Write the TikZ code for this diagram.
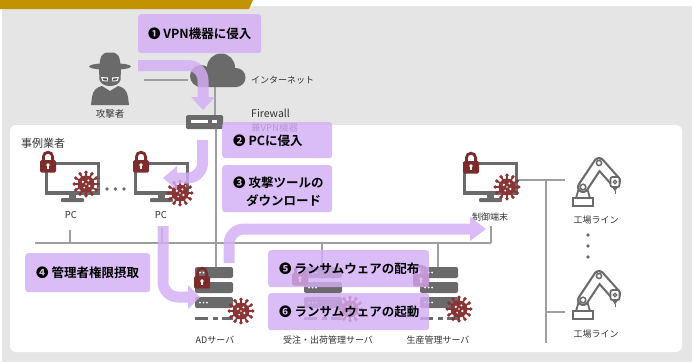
\documentclass[tikz,border=0pt]{standalone}
\usepackage{fontspec}
\setmainfont{Noto Sans CJK JP}[BoldFont={Noto Sans CJK JP Bold}]
\usetikzlibrary{calc}

\definecolor{bggrey}{HTML}{E5E5E5}
\definecolor{gold}{HTML}{C39200}
\definecolor{lav}{HTML}{D3AEF5}
\definecolor{icon}{HTML}{6A6A6A}
\definecolor{wirecol}{HTML}{9E9E9E}
\definecolor{lockred}{HTML}{7C2C2C}
\definecolor{germ}{HTML}{8A3535}
\definecolor{txtcol}{HTML}{333333}

\tikzset{
  wire/.style={draw=wirecol, line width=2.6},
  lbl/.style={text=txtcol, font=\fontsize{9}{11}\selectfont, inner sep=0},
  pbox/.style={fill=lav, fill opacity=0.82, rounded corners=3,
    anchor=north west, inner sep=0},
  ptext/.style={anchor=west, inner sep=0, align=left, text=black,
    font=\bfseries\fontsize{12.5}{18}\selectfont},
  parrow/.style={draw=lav, draw opacity=0.82, line width=11, rounded corners=15},
  phead/.style={fill=lav, fill opacity=0.82},
  % desktop monitor, origin at the top-left of the frame
  monitor/.pic={
    \draw[icon, line width=3.2] (1.6,1.6) rectangle (53.4,31);
    \fill[icon] (24,31) rectangle (31,37);
    \fill[icon, rounded corners=1] (16,36) rectangle (39,40);
  },
  % padlock, origin at the top-left of the body
  padlock/.pic={
    \draw[lockred, line width=2.8] (3.4,0.5) -- (3.4,-3.2)
      arc[start angle=180, end angle=360, radius=4.6] -- (12.6,0.5);
    \fill[lockred, rounded corners=1.5] (0,0) rectangle (16,12.5);
    \fill[white] (8,5) circle (1.8);
    \fill[white] (7.3,5) rectangle (8.7,9);
  },
  % malware germ, origin at its centre
  virus/.pic={
    \fill[germ] (0,0) circle (8.5);
    \foreach \a in {0,30,...,330}{
      \draw[germ, line width=1.7] (\a:7) -- (\a:11.5);
      \fill[germ] (\a:11.8) circle (1.9);
    }
    \fill[white] (-3.2,-2.2) circle (1.3) (2.4,-3.6) circle (1.1)
      (3.4,2.0) circle (1.3) (-1.8,3.6) circle (1.0) (0,0) circle (0.9);
  },
  % rack server, origin at the top-left of the upper unit
  server/.pic={
    \foreach \y in {0,15,30}{
      \fill[icon, rounded corners=2] (0,\y) rectangle (38,\y+11);
      \fill[white] (5,\y+5.5) circle (1) (8.5,\y+5.5) circle (1) (12,\y+5.5) circle (1);
    }
    \fill[icon] (0,50) rectangle (13,53);
    \fill[icon] (18,50) rectangle (23,53);
    \fill[icon] (27,50) rectangle (38,53);
  },
  % industrial robot arm, origin at the bottom-left of its base
  robot/.pic={
    \draw[icon, line width=1.8, fill=white, line join=round] (3,-9) -- (6,-19) -- (14,-19) -- (17,-9);
    \draw[icon, line width=12, line cap=round, line join=round] (10,-20) -- (26,-44) -- (42,-26);
    \draw[white, line width=7.6, line cap=round, line join=round] (10,-20) -- (26,-44) -- (42,-26);
    \draw[icon, line width=1.8, fill=white] (0,-9) rectangle (20,-0.9);
    \draw[icon, line width=1.5, fill=white] (10,-20) circle (2.8);
    \draw[icon, line width=1.5, fill=white] (26,-44) circle (2.6);
    \draw[icon, line width=1.8, fill=white, rounded corners=2] (37.5,-30) rectangle (46.5,-20);
    \draw[icon, line width=1.3, fill=white] (42,-25) circle (1.8);
    \fill[icon] (39,-20) -- (45,-20) -- (42,-15.5) -- cycle;
    \draw[icon, line width=1] (42,-16) -- (42,-13);
  },
}

\begin{document}
\begin{tikzpicture}[x=1pt, y=-1pt]
\useasboundingbox (0,0) rectangle (692,362);

% page background, header tab and the company panel
\fill[white] (0,0) rectangle (692,362);
\fill[bggrey] (2,6) rectangle (692,362);
\fill[gold] (0,0) -- (253,0) -- (249,9) -- (0,9) -- cycle;
\fill[white, rounded corners=6] (10,125) rectangle (682,352);

% connection points
\coordinate (atkR) at (144,80);
\coordinate (cloudL) at (188,80);
\coordinate (cloudB) at (215,87);
\coordinate (fwT) at (215,115);
\coordinate (fwB) at (216,129);
\coordinate (adT) at (216,267);
\coordinate (busL) at (35,243);
\coordinate (busR) at (491,243);
\coordinate (pc1B) at (70,230);
\coordinate (pc1J) at (70,243);
\coordinate (pc2B) at (162,228);
\coordinate (pc2J) at (162,243);
\coordinate (sv2T) at (322,267);
\coordinate (sv2J) at (322,243);
\coordinate (sv3T) at (438,267);
\coordinate (sv3J) at (438,243);
\coordinate (ctlB) at (491,226);
\coordinate (ctlR) at (517,180);
\coordinate (rb1L) at (565,180);
\coordinate (trT) at (546,180);
\coordinate (trB) at (546,343);
\coordinate (trM) at (546,312);
\coordinate (rb2L) at (565,312);

% network wiring
\draw[wire] (atkR) -- (cloudL);
\draw[wire] (cloudB) -- (fwT);
\draw[wire] (fwB) -- (adT);
\draw[wire] (busL) -- (busR);
\draw[wire] (pc1B) -- (pc1J);
\draw[wire] (pc2B) -- (pc2J);
\draw[wire] (sv2J) -- (sv2T);
\draw[wire] (sv3J) -- (sv3T);
\draw[wire] (ctlB) -- (busR);
\draw[wire] (ctlR) -- (rb1L);
\draw[wire] (trT) -- (trB);
\draw[wire] (trM) -- (rb2L);

% attacker
\fill[icon] (99.5,66) .. controls (100,56) and (102,52) .. (110,52.5)
  .. controls (118,52) and (120,56) .. (120.5,66) -- cycle;
\fill[icon] (110,66.5) ellipse [x radius=21, y radius=3.4];
\fill[icon] (99,69) -- (121,69) -- (120.5,80) .. controls (118,88) and (102,88) .. (99.5,80) -- cycle;
\fill[white] (101,77) -- (108,77.5) -- (107.5,81.5) -- (102.5,81) -- cycle;
\fill[white] (112,77.5) -- (119,77) -- (117.5,81) -- (112.5,81.5) -- cycle;
\fill[black!70] (102.5,78.2) -- (107,78.6) -- (106.6,80.6) -- (103.5,80.2) -- cycle;
\fill[black!70] (113,78.6) -- (117.5,78.2) -- (116.5,80.2) -- (113.4,80.6) -- cycle;
\fill[icon] (91,105) -- (92,97) .. controls (93,90) and (97,87) .. (102,86)
  -- (110,91) -- (118,86) .. controls (123,87) and (127,90) .. (128,97) -- (129,105) -- cycle;
\node[lbl, font=\fontsize{9.5}{11}\selectfont] (atk) at (110,114) {攻撃者};

% internet cloud
\fill[icon] (201,76) circle (11);
\fill[icon] (221,67.5) circle (14);
\fill[icon] (236,77.5) circle (9.5);
\fill[icon, rounded corners=4] (195,74) rectangle (240,87);
\node[lbl, anchor=west] (inet) at (251,80) {インターネット};

% firewall / VPN appliance
\fill[icon, rounded corners=1.5] (186,115) rectangle (223,129);
\fill[white] (191,119.5) rectangle (208,123);
\fill[white] (212,119.5) rectangle (217,123);
\node[lbl, anchor=west, font=\fontsize{10.5}{12}\selectfont] (fw) at (251,113) {Firewall};
\node[lbl, anchor=west, font=\fontsize{9.5}{11}\selectfont] (fw2) at (251,128) {兼VPN機器};

% company label
\node[lbl, anchor=west, font=\fontsize{11}{13}\selectfont] (corp) at (21,143) {事例業者};

% office PCs
\pic at (45,162) {monitor};
\pic at (40,160) {padlock};
\pic at (86,184) {virus};
\node[lbl, font=\fontsize{9.5}{11}\selectfont] (pc1) at (71,215) {PC};
\fill[icon] (107,189) circle (1.8) (115.5,189) circle (1.8) (124,189) circle (1.8);
\pic at (134,162) {monitor};
\pic at (133,160) {padlock};
\pic at (180,193) {virus};
\node[lbl, font=\fontsize{9.5}{11}\selectfont] (pc2) at (161,215) {PC};

% control terminal
\pic at (463,162) {monitor};
\pic at (463,161) {padlock};
\pic at (507,187) {virus};
\node[lbl] (ctl) at (490,217) {制御端末};

% factory lines
\pic at (573,207) {robot};
\node[lbl] (line1) at (596,220) {工場ライン};
\fill[icon] (588,235) circle (1.8) (588,246) circle (1.8) (588,257) circle (1.8);
\pic at (573,320) {robot};
\node[lbl] (line2) at (596,334) {工場ライン};

% servers
\pic at (195,267) {server};
\pic at (194,276) {padlock};
\pic at (241,311) {virus};
\node[lbl] (ad) at (215,340) {ADサーバ};
\pic at (304,267) {server};
\pic at (292,273) {padlock};
\pic at (350,309) {virus};
\node[lbl] (sv2) at (328,340) {受注・出荷管理サーバ};
\pic at (420,267) {server};
\pic at (413,274) {padlock};
\pic at (459,309) {virus};
\node[lbl] (sv3) at (438,340) {生産管理サーバ};

% attack steps
\node[pbox, minimum width=123, minimum height=39] (s1) at (138,14) {};
\node[ptext, anchor=center] (t1) at (s1.center) {❶ VPN機器に侵入};
\node[pbox, minimum width=110, minimum height=36] (s2) at (222,122) {};
\node[ptext] (t2) at (233,140.5) {❷ PCに侵入};
\node[pbox, minimum width=110, minimum height=47] (s3) at (222,165) {};
\node[ptext] (t3) at (233,191.5) {❸ 攻撃ツールの\\\hspace*{13pt}ダウンロード};
\node[pbox, minimum width=125, minimum height=39] (s4) at (25,253) {};
\node[ptext] (t4) at (36,272.5) {❹ 管理者権限摂取};
\node[pbox, minimum width=161, minimum height=37] (s5) at (268,250) {};
\node[ptext] (t5) at (279,268.5) {❺ ランサムウェアの配布};
\node[pbox, minimum width=161, minimum height=37] (s6) at (268,293) {};
\node[ptext] (t6) at (279,311.5) {❻ ランサムウェアの起動};

% attack paths
\draw[parrow] (s1.west |- 0,65.5) -- (203,65.5) -- (203,97);
\fill[phead] (191,97) -- (215,97) -- (203,110) -- cycle;
\draw[parrow] (202.5,140) -- (202.5,178) -- (177,178);
\fill[phead] (177,166) -- (177,190) -- (163,178) -- cycle;
\draw[parrow] (163,226) -- (163,297) -- (188,297);
\fill[phead] (188,285) -- (188,309) -- (200,297) -- cycle;
\draw[parrow] (229,263) -- (229,229) -- (470,229);
\fill[phead] (470,217) -- (470,241) -- (486,229) -- cycle;

\end{tikzpicture}
\end{document}
